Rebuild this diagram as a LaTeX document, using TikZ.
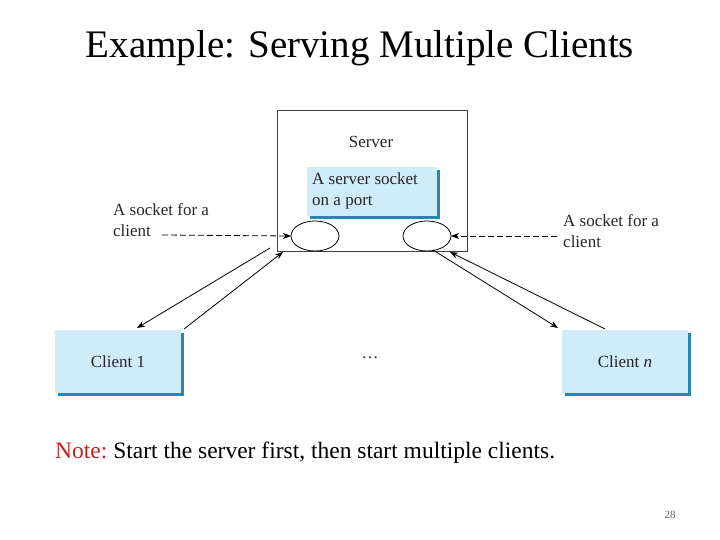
\documentclass[tikz,border=0pt]{standalone}
\usepackage{fontspec}
\setmainfont{Liberation Serif}
\usetikzlibrary{arrows.meta}
\definecolor{boxblue}{RGB}{208,236,248}
\definecolor{edgeblue}{RGB}{40,135,175}
\tikzset{
  blue box/.style={fill=boxblue,inner sep=0pt},
  link/.style={-{Stealth[length=8pt,width=6pt]},black,line width=0.8pt},
  lbl/.style={font=\fontsize{17}{21}\selectfont,text=black!85,align=left,inner sep=0pt}
}
\begin{document}
\begin{tikzpicture}[x=1pt,y=-1pt]
\useasboundingbox (0,0) rectangle (720,540);
% title
\node (title) at (360,48) {\fontsize{39}{44}\selectfont Example: Serving Multiple Clients};
% server
\draw[black!75,line width=0.8pt] (277,110) rectangle (467,251);
\node[lbl] (server) at (371,142) {Server};
\fill[edgeblue] (310,170) rectangle (440,219);
\fill[boxblue] (307,167) rectangle (437,216);
\node[lbl,anchor=north west] (ss) at (312,173) {A server socket\\on a port};
% sockets
\draw[fill=white,line width=0.8pt] (315,236) ellipse (24 and 15);
\draw[fill=white,line width=0.8pt] (427,236) ellipse (24 and 15);
\coordinate (sl) at (291,236);
\coordinate (sr) at (451,236);
\node[lbl,anchor=north west] (ll) at (113,203) {A socket for a\\client};
\node[lbl,anchor=north west] (rl) at (563,214) {A socket for a\\client};
\draw[link,dash pattern=on 6pt off 3pt] (162,235) -- (sl);
\draw[link,dash pattern=on 6pt off 3pt] (557,236) -- (sr);
% clients
\foreach \x/\n/\t in {55/c1/{Client 1},562/cn/{Client \textit{n}}}{
  \fill[edgeblue] (\x+3,333) rectangle (\x+129,396);
  \fill[boxblue] (\x,330) rectangle (\x+126,393);
  \node[lbl] (\n) at (\x+63,362) {\t};
}
\node[lbl] (dots) at (370,358) {\dots};
% connections
\draw[link] (270,248) -- (137,328);
\draw[link] (184,329) -- (283,252);
\draw[link] (433,250) -- (558,328);
\draw[link] (605,329) -- (450,252);
% note
\node[anchor=west,inner sep=0pt] (note) at (55,453) {\fontsize{23.5}{28}\selectfont\textcolor[RGB]{200,30,30}{Note:}~Start the server first, then start multiple clients.};
\node[text=black!60] (pg) at (670,515) {\fontsize{11}{13}\selectfont 28};
\end{tikzpicture}
\end{document}
